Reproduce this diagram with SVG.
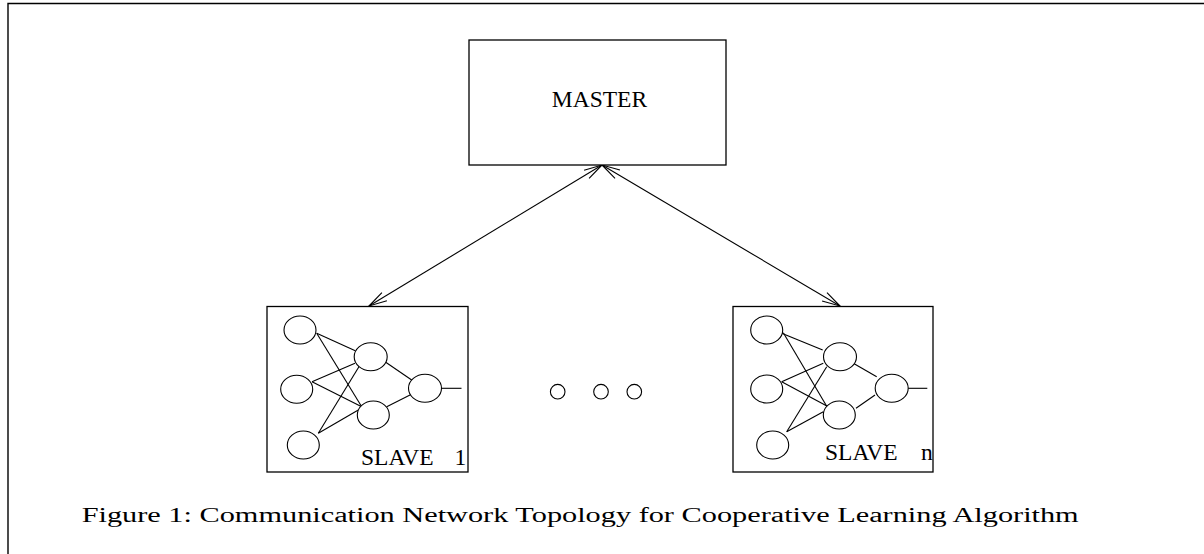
<svg xmlns="http://www.w3.org/2000/svg" width="1204" height="554" viewBox="0 0 1204 554">
<style>
.box{fill:#fff;stroke:#000;stroke-width:1.3}
.n{fill:#fff;stroke:#000;stroke-width:1.1}
.w{stroke:#000;stroke-width:1.1;fill:none}
.lbl{font-family:"Liberation Serif","Times New Roman",serif;font-size:23.5px;fill:#000}
.cap{font-family:"Liberation Serif",serif;font-size:20px;fill:#000}
.conn{stroke:#000;stroke-width:1.1;fill:none}
</style>
<defs>
<marker id="ah" markerUnits="userSpaceOnUse" markerWidth="24" markerHeight="14" viewBox="-20 -7 24 14" refX="0" refY="0" orient="auto-start-reverse">
<path d="M-18,-4.8 L0,0 L-18,4.8" fill="none" stroke="#000" stroke-width="1.1"/>
</marker>
</defs>
<rect width="1204" height="554" fill="#fff"/>
<g id="frame">
<path d="M8,554 L8,3.5 L1204,3.5" fill="none" stroke="#000" stroke-width="1.4"/>
</g>
<g id="connectors">
<line class="conn" x1="602" y1="165" x2="369" y2="306" marker-start="url(#ah)" marker-end="url(#ah)"/>
<line class="conn" x1="602" y1="165" x2="840" y2="306" marker-start="url(#ah)" marker-end="url(#ah)"/>
</g>
<g id="master">
<rect class="box" x="469" y="40" width="257" height="125"/>
<text class="lbl" x="599.5" y="107.3" text-anchor="middle">MASTER</text>
</g>
<g id="slave1">
<rect class="box" x="267" y="306.5" width="201" height="165.5"/>
<g class="w">
<line x1="316.7" y1="333.3" x2="355.3" y2="350.7"/>
<line x1="316.7" y1="333.3" x2="361.7" y2="406.7"/>
<line x1="312" y1="381.7" x2="355" y2="363.3"/>
<line x1="312" y1="381.7" x2="361.7" y2="406.7"/>
<line x1="318.3" y1="433.3" x2="360" y2="365"/>
<line x1="318.3" y1="433.3" x2="358.3" y2="410"/>
<line x1="385" y1="361.7" x2="411.7" y2="380"/>
<line x1="386.7" y1="406.7" x2="410" y2="395"/>
<line x1="441" y1="388.3" x2="461.5" y2="388.3"/>
</g>
<ellipse class="n" cx="300" cy="330" rx="16" ry="14"/>
<ellipse class="n" cx="296.7" cy="389.3" rx="16" ry="14"/>
<ellipse class="n" cx="303.3" cy="445" rx="16" ry="14"/>
<ellipse class="n" cx="370.7" cy="356.7" rx="16.5" ry="14"/>
<ellipse class="n" cx="373.3" cy="415" rx="16" ry="14"/>
<ellipse class="n" cx="425" cy="388.3" rx="16.5" ry="14"/>
<text class="lbl" x="361" y="465">SLAVE</text>
<text class="lbl" x="454.5" y="465">1</text>
</g>
<g id="dots">
<circle class="n" cx="557.7" cy="391.7" r="7.3"/>
<circle class="n" cx="601" cy="391.7" r="7.3"/>
<circle class="n" cx="634.3" cy="391.7" r="7.3"/>
</g>
<g id="slaven">
<rect class="box" x="733" y="306.5" width="200" height="165.5"/>
<g class="w">
<line x1="781.7" y1="333.3" x2="822.7" y2="350"/>
<line x1="783.3" y1="332.7" x2="827.3" y2="407.3"/>
<line x1="781.7" y1="381.7" x2="823.3" y2="363.3"/>
<line x1="781.7" y1="381.7" x2="828.3" y2="406.7"/>
<line x1="786.7" y1="431.7" x2="826.7" y2="366.7"/>
<line x1="786.7" y1="431.7" x2="823.3" y2="411.7"/>
<line x1="853.3" y1="363.3" x2="876.7" y2="376.7"/>
<line x1="856" y1="408.3" x2="875" y2="395"/>
<line x1="908" y1="388.3" x2="927.3" y2="388.3"/>
</g>
<ellipse class="n" cx="766.7" cy="330" rx="16" ry="14"/>
<ellipse class="n" cx="766.7" cy="389" rx="16" ry="14"/>
<ellipse class="n" cx="772.7" cy="445" rx="16" ry="14"/>
<ellipse class="n" cx="840" cy="356.7" rx="16.5" ry="14"/>
<ellipse class="n" cx="839.3" cy="415" rx="16" ry="14"/>
<ellipse class="n" cx="891.7" cy="388.3" rx="16.5" ry="14"/>
<text class="lbl" x="825" y="460">SLAVE</text>
<text class="lbl" x="921" y="460">n</text>
</g>
<g id="caption">
<text class="cap" x="81.7" y="521.7" textLength="997" lengthAdjust="spacingAndGlyphs">Figure 1: Communication Network Topology for Cooperative Learning Algorithm</text>
</g>
</svg>
